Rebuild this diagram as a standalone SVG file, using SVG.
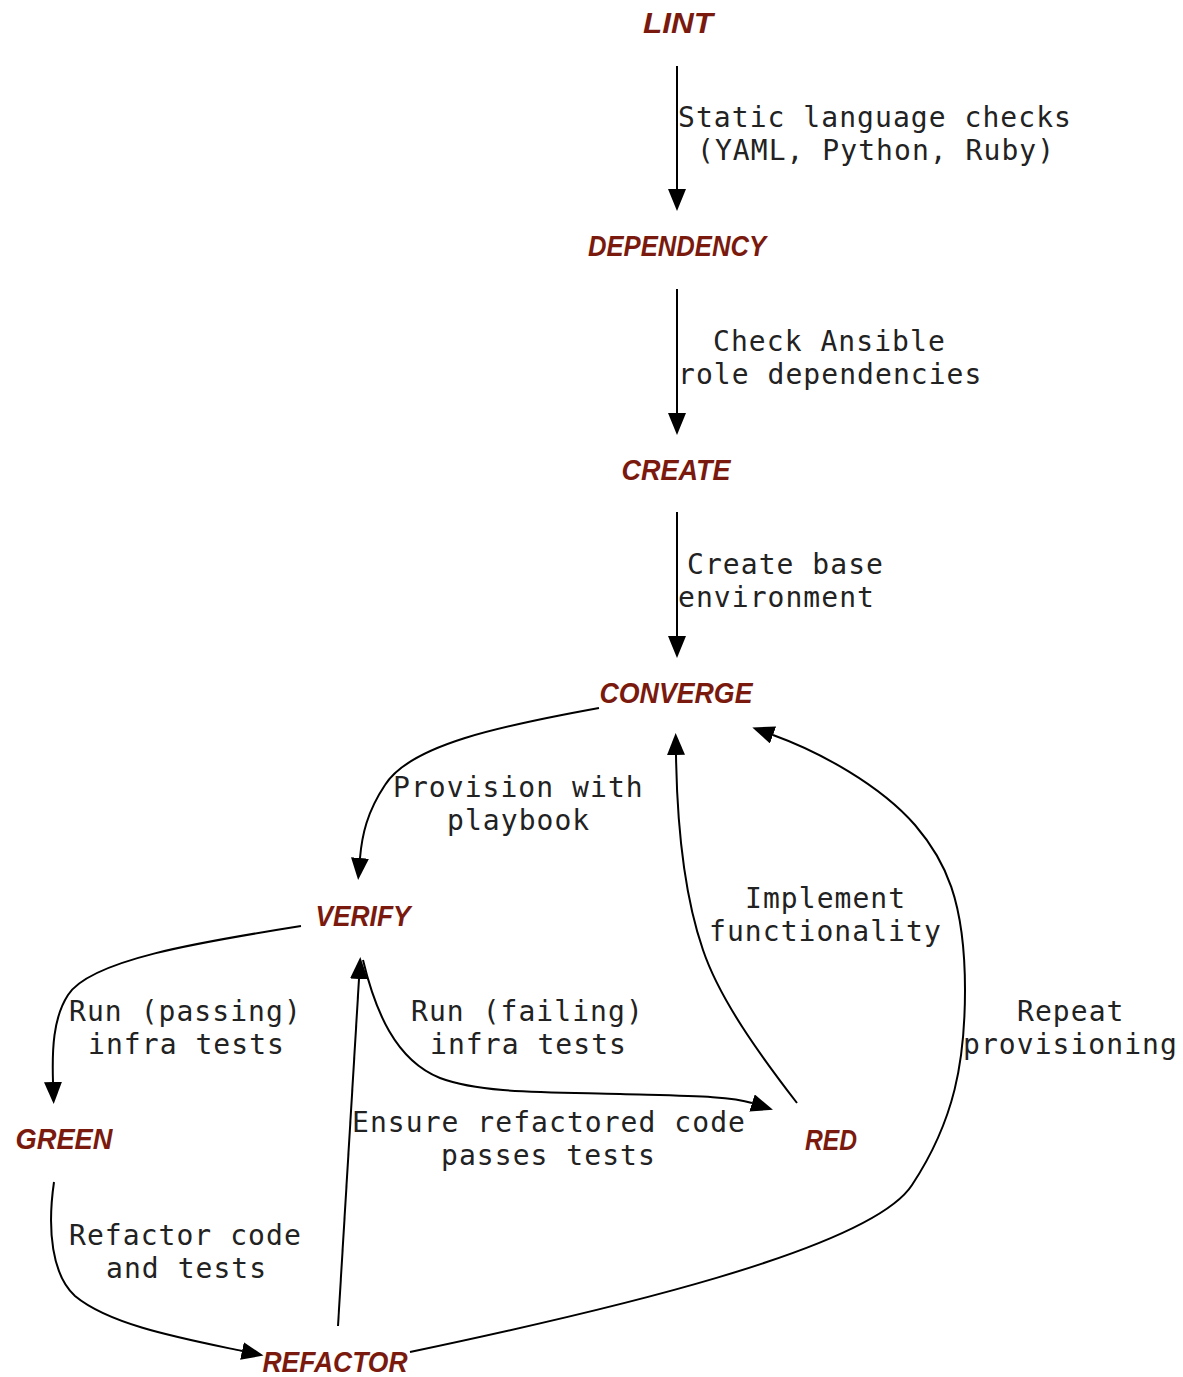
<svg xmlns="http://www.w3.org/2000/svg" width="1183" height="1377" viewBox="0 0 1183 1377">
<style>
.node{font-family:"Liberation Sans",Arial,sans-serif;font-weight:bold;font-style:italic;font-size:29px;fill:#7a1a0e;text-anchor:middle}
.lbl{font-family:"DejaVu Sans Mono","Liberation Mono",monospace;font-size:28px;fill:#222;letter-spacing:1.05px}
.edge{fill:none;stroke:#000;stroke-width:2}
</style>
<defs>
<marker id="ah" viewBox="0 0 22 18" refX="0" refY="9" markerWidth="22" markerHeight="18" markerUnits="userSpaceOnUse" orient="auto">
<path d="M0,0 L22,9 L0,18 z" fill="#000"/>
</marker>
</defs>
<rect width="1183" height="1377" fill="#fff"/>
<g id="connectors">
<path class="edge" marker-end="url(#ah)" d="M677,66 L677,189"/>
<path class="edge" marker-end="url(#ah)" d="M677,289 L677,413"/>
<path class="edge" marker-end="url(#ah)" d="M677,512 L677,636"/>
<path class="edge" marker-end="url(#ah)" d="M599,708 C500,726 410,745 385,785 C367,812 362,835 360,858"/>
<path class="edge" marker-end="url(#ah)" d="M301,926 C200,942 90,960 68,995 C53,1018 52,1050 53,1082"/>
<path class="edge" marker-end="url(#ah)" d="M363,960 C375,1010 395,1060 440,1078 C480,1093 540,1092 620,1094 C690,1096 730,1096 752,1103"/>
<path class="edge" marker-end="url(#ah)" d="M797,1103 C760,1055 720,1000 703,950 C684,895 677,820 676,755"/>
<path class="edge" marker-end="url(#ah)" d="M410,1352 C600,1312 870,1250 912,1185 C955,1120 965,1060 965,990 C965,900 945,860 915,825 C880,785 820,752 773,735"/>
<path class="edge" marker-end="url(#ah)" d="M54,1182 C47,1230 52,1275 75,1296 C110,1325 180,1338 242,1351"/>
<path class="edge" marker-end="url(#ah)" d="M338,1326 L359,979"/>
</g>
<g id="labels">
<text class="lbl" x="678" y="127">Static language checks</text>
<text class="lbl" x="697" y="160">(YAML, Python, Ruby)</text>
<text class="lbl" x="713" y="351">Check Ansible</text>
<text class="lbl" x="678" y="384">role dependencies</text>
<text class="lbl" x="687" y="574">Create base</text>
<text class="lbl" x="678" y="607">environment</text>
<text class="lbl" x="393" y="797">Provision with</text>
<text class="lbl" x="447" y="830">playbook</text>
<text class="lbl" x="745" y="908">Implement</text>
<text class="lbl" x="709" y="941">functionality</text>
<text class="lbl" x="69" y="1021">Run (passing)</text>
<text class="lbl" x="88" y="1054">infra tests</text>
<text class="lbl" x="411" y="1021">Run (failing)</text>
<text class="lbl" x="430" y="1054">infra tests</text>
<text class="lbl" x="1017" y="1021">Repeat</text>
<text class="lbl" x="963" y="1054">provisioning</text>
<text class="lbl" x="352" y="1132">Ensure refactored code</text>
<text class="lbl" x="441" y="1165">passes tests</text>
<text class="lbl" x="69" y="1245">Refactor code</text>
<text class="lbl" x="106" y="1278">and tests</text>
</g>
<g id="lint"><text class="node" x="678" y="33" textLength="70" lengthAdjust="spacingAndGlyphs">LINT</text></g>
<g id="dependency"><text class="node" x="677" y="256" textLength="178" lengthAdjust="spacingAndGlyphs">DEPENDENCY</text></g>
<g id="create"><text class="node" x="676" y="480" textLength="109" lengthAdjust="spacingAndGlyphs">CREATE</text></g>
<g id="converge"><text class="node" x="676" y="703" textLength="153" lengthAdjust="spacingAndGlyphs">CONVERGE</text></g>
<g id="verify"><text class="node" x="363" y="926" textLength="95" lengthAdjust="spacingAndGlyphs">VERIFY</text></g>
<g id="green"><text class="node" x="64" y="1149" textLength="97" lengthAdjust="spacingAndGlyphs">GREEN</text></g>
<g id="red"><text class="node" x="831" y="1150" textLength="52" lengthAdjust="spacingAndGlyphs">RED</text></g>
<g id="refactor"><text class="node" x="335" y="1372" textLength="145" lengthAdjust="spacingAndGlyphs">REFACTOR</text></g>
</svg>
